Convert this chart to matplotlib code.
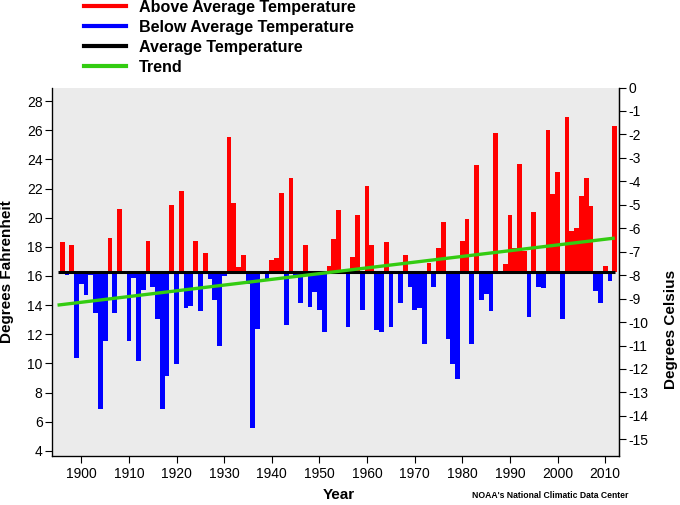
import numpy as np
import matplotlib
matplotlib.use('Agg')
import matplotlib.pyplot as plt
from matplotlib.lines import Line2D

plt.rcParams['font.family'] = ['Liberation Sans', 'DejaVu Sans']

# yearly values, degrees Fahrenheit
years = np.arange(1895, 2013)
temps = [
    16.3, 18.33, 16.09, 18.13, 10.4, 15.47, 14.72, 16.09, 13.48, 6.9,
    11.57, 18.61, 13.48, 20.59, 16.3, 11.56, 15.87, 10.2, 15.06, 18.4,
    15.26, 13.07, 6.9, 9.17, 20.87, 9.97, 21.83, 13.83, 13.97, 18.4,
    13.62, 17.58, 15.82, 14.38, 11.22, 16.02, 25.53, 21.0, 16.62, 17.44,
    15.47, 5.58, 12.39, 16.3, 15.82, 17.1, 17.23, 21.69, 12.65, 22.72,
    16.0, 14.17, 18.13, 13.9, 14.93, 13.69, 12.18, 16.69, 18.54, 20.53,
    16.3, 12.53, 17.3, 20.18, 13.69, 22.17, 18.13, 12.32, 12.18, 18.33,
    12.53, 16.3, 14.17, 17.44, 15.27, 13.69, 13.83, 11.36, 16.89, 15.27,
    17.92, 19.7, 11.7, 9.99, 8.96, 18.4, 19.91, 11.36, 23.61, 14.38,
    14.79, 13.62, 25.81, 16.3, 16.82, 20.18, 17.92, 23.68, 17.74, 13.21,
    20.38, 15.27, 15.2, 26.01, 21.62, 23.13, 13.07, 26.9, 19.08, 19.29,
    21.48, 22.72, 20.8, 15.0, 14.17, 16.68, 15.68, 26.29,
]
average = 16.3
trend_years = [1895, 2012]
trend_vals = [14.0, 18.6]

f_ticks = list(range(4, 29, 2))
c_ticks = list(range(0, -16, -1))
x_ticks = list(range(1900, 2011, 10))

temps = np.array(temps)
above = temps > average
colors = np.where(above, 'red', 'blue')

W, H = 680, 505
fig = plt.figure(figsize=(W / 100, H / 100), dpi=100)
ax = fig.add_axes([52.3 / W, 1 - 456 / H, (619 - 52.3) / W, (456 - 87.5) / H])
ax.set_facecolor('#ebebeb')

ax.bar(years, temps - average, bottom=average, width=1.0, color=colors,
       linewidth=0, zorder=2)
ax.plot([1895, 2012], [average, average], color='black', lw=2.2, zorder=3,
        solid_capstyle='butt')
ax.plot(trend_years, trend_vals, color='#33cc11', lw=2.4, zorder=4,
        solid_capstyle='butt')

ax.set_xlim(1893.9, 2012.9)
ax.set_ylim(3.65, 28.93)
ax.set_xticks(x_ticks)
ax.set_yticks(f_ticks)
ax.tick_params(direction='out', length=5, width=0.8, labelsize=10, pad=2)
ax.tick_params(axis='x', pad=3)
ax.spines['top'].set_visible(False)
for s in ['left', 'bottom', 'right']:
    ax.spines[s].set_linewidth(0.9)

ax2 = ax.twinx()
ax2.set_ylim(-15.71, 0)
ax2.set_yticks(c_ticks)
ax2.set_yticklabels([str(c) for c in c_ticks])
ax2.tick_params(direction='out', length=5, width=0.8, labelsize=10, pad=2)
ax2.spines['top'].set_visible(False)
ax2.spines['right'].set_linewidth(0.9)

fig.text(7 / W, 1 - 272 / H, 'Degrees Fahrenheit', rotation=90, ha='center',
         va='center', fontsize=11, fontweight='bold')
fig.text(671 / W, 1 - 329 / H, 'Degrees Celsius', rotation=90, ha='center',
         va='center', fontsize=11, fontweight='bold')
fig.text(339 / W, 1 - 495 / H, 'Year', ha='center', va='center',
         fontsize=11, fontweight='bold')
fig.text(472 / W, 1 - 496 / H, "NOAA's National Climatic Data Center",
         ha='left', va='center', fontsize=6.2, fontweight='bold')

handles = [
    Line2D([], [], color='red', lw=3),
    Line2D([], [], color='blue', lw=3),
    Line2D([], [], color='black', lw=3),
    Line2D([], [], color='#33cc11', lw=3),
]
labels = ['Above Average Temperature', 'Below Average Temperature',
          'Average Temperature', 'Trend']
fig.legend(handles, labels, loc='upper left', bbox_to_anchor=(84 / W, 1.0),
           frameon=False, borderpad=0, borderaxespad=0, handlelength=2.6,
           handletextpad=0.8, labelspacing=0.3,
           prop={'size': 11.6, 'weight': 'bold'})

fig.savefig('out.png', dpi=100)
